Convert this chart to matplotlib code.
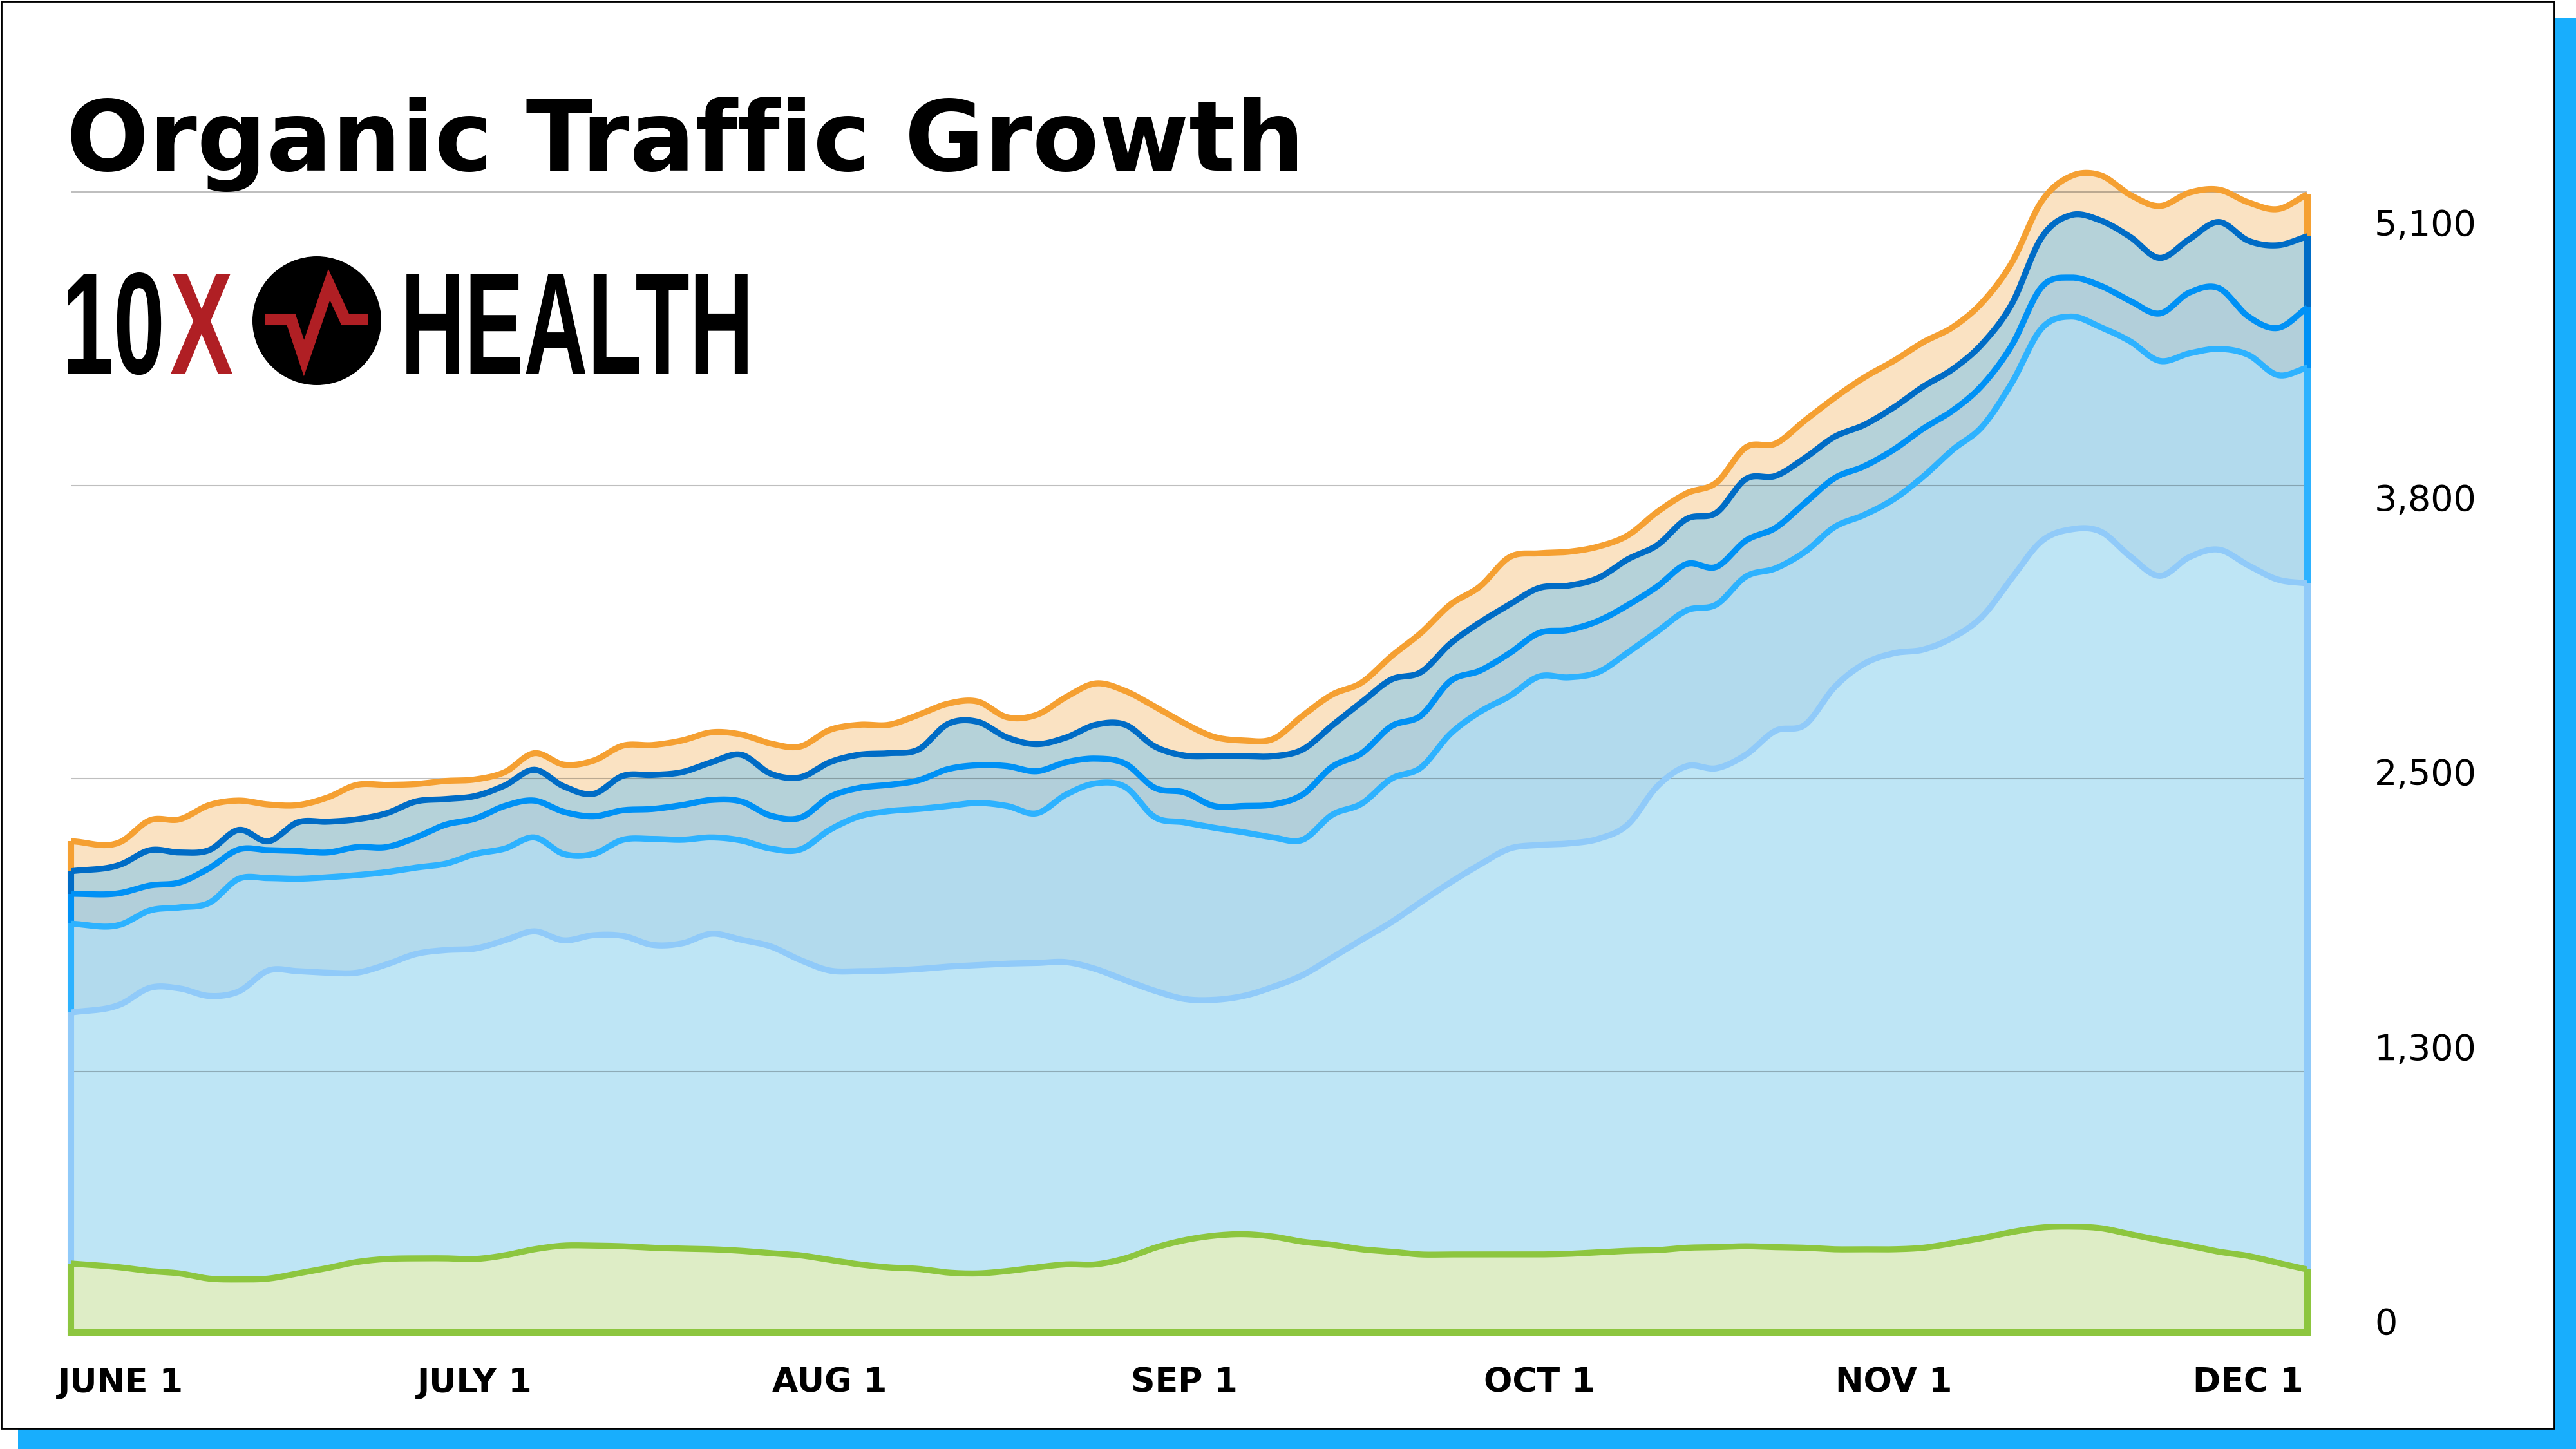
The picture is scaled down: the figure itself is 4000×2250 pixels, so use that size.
import numpy as np
import matplotlib.pyplot as plt
from matplotlib.patches import Rectangle, Circle
from matplotlib import transforms, patheffects

# x positions in months from June 1 (left edge, then a sample every ~2.5 days)
x = [-0.14] + [j / 12 for j in range(75)]
month_labels = ['JUNE 1', 'JULY 1', 'AUG 1', 'SEP 1', 'OCT 1', 'NOV 1', 'DEC 1']
tick_values = [0, 1275, 2550, 3825, 5100]
tick_labels = ['0', '1,300', '2,500', '3,800', '5,100']

# stacked series, bottom to top
green = [320, 302, 285, 274, 250, 246, 250, 274, 299, 327,
         341, 344, 344, 341, 358, 386, 403, 403, 400, 393,
         389, 386, 379, 368, 358, 337, 316, 302, 295, 278,
         274, 285, 302, 316, 316, 344, 393, 428, 449, 456,
         445, 421, 407, 386, 375, 362, 362, 362, 362, 362,
         365, 372, 379, 382, 393, 396, 400, 396, 393, 386,
         386, 386, 393, 414, 438, 466, 487, 491, 484, 456,
         428, 403, 375, 355, 323, 292]
light_blue = [1165, 1221, 1315, 1323, 1312, 1337, 1430, 1403, 1371, 1343,
              1367, 1413, 1431, 1441, 1462, 1476, 1417, 1441, 1441, 1406,
              1417, 1465, 1444, 1424, 1371, 1343, 1361, 1378, 1392, 1420,
              1431, 1427, 1413, 1403, 1371, 1291, 1193, 1120, 1095, 1106,
              1159, 1238, 1333, 1437, 1529, 1636, 1727, 1810, 1884, 1901,
              1905, 1919, 1978, 2153, 2236, 2223, 2282, 2397, 2428, 2610,
              2718, 2767, 2777, 2812, 2886, 3036, 3186, 3237, 3234, 3147,
              3084, 3196, 3259, 3206, 3172, 3185]
sky_blue = [412, 370, 359, 376, 432, 523, 429, 429, 443, 453,
            429, 401, 401, 439, 426, 436, 401, 377, 446, 492,
            481, 447, 461, 454, 513, 653, 719, 740, 743, 746,
            753, 732, 695, 778, 862, 897, 806, 820, 799, 760,
            694, 628, 663, 632, 666, 624, 690, 709, 708, 782,
            771, 774, 799, 719, 723, 760, 827, 754, 803, 743,
            691, 715, 803, 872, 882, 907, 987, 988, 949, 998,
            998, 946, 932, 977, 949, 1002]
blue = [139, 147, 116, 116, 161, 136, 130, 129, 115, 130,
        116, 140, 181, 164, 198, 171, 196, 175, 137, 139,
        161, 174, 181, 153, 147, 153, 132, 122, 133, 171,
        175, 185, 195, 150, 115, 108, 136, 139, 101, 122,
        153, 210, 223, 234, 244, 241, 245, 191, 199, 202,
        220, 238, 220, 209, 216, 175, 167, 188, 227, 227,
        226, 230, 223, 182, 192, 174, 192, 181, 192, 188,
        220, 282, 282, 178, 219, 279]
dark_blue = [105, 132, 164, 139, 84, 91, 41, 133, 143, 129,
             157, 167, 119, 105, 95, 143, 118, 104, 160, 158,
             153, 175, 217, 195, 188, 161, 154, 147, 143, 210,
             202, 133, 126, 115, 157, 181, 192, 171, 231, 231,
             224, 209, 192, 237, 217, 202, 174, 224, 226, 209,
             206, 199, 213, 192, 209, 251, 286, 241, 209, 192,
             192, 196, 195, 192, 192, 192, 230, 290, 303, 297,
             258, 248, 307, 352, 384, 331]
orange = [139, 105, 139, 154, 209, 136, 171, 80, 112, 160,
          132, 81, 84, 77, 62, 77, 101, 154, 140, 139,
          147, 139, 94, 140, 143, 150, 139, 132, 161, 94,
          94, 94, 136, 188, 192, 157, 185, 150, 90, 73,
          80, 157, 143, 91, 108, 182, 181, 167, 220, 161,
          157, 146, 111, 154, 119, 140, 147, 150, 174, 181,
          220, 216, 206, 195, 192, 192, 168, 181, 210, 195,
          241, 216, 150, 178, 168, 195]

layers = [
    (green, '#8DC63F', '#DEEDC6'),
    (light_blue, '#90CAF9', '#BEE5F5'),
    (sky_blue, '#2DB2FF', '#B2DAED'),
    (blue, '#0091F5', '#B2CFDA'),
    (dark_blue, '#006CC6', '#B5D2D9'),
    (orange, '#F5A032', '#FAE2C2'),
]


def smooth(xs, ys, n=12):
    # cubic hermite through the points, like a spline area chart
    xs = np.asarray(xs, float)
    ys = np.asarray(ys, float)
    m = np.gradient(ys, xs)
    t = np.linspace(0, 1, n, endpoint=False)
    h00 = 2 * t**3 - 3 * t**2 + 1
    h10 = t**3 - 2 * t**2 + t
    h01 = -2 * t**3 + 3 * t**2
    h11 = t**3 - t**2
    px, py = [], []
    for i in range(len(xs) - 1):
        h = xs[i + 1] - xs[i]
        px.append(xs[i] + t * h)
        py.append(h00 * ys[i] + h10 * h * m[i] + h01 * ys[i + 1] + h11 * h * m[i + 1])
    px.append([xs[-1]])
    py.append([ys[-1]])
    return np.concatenate(px), np.concatenate(py)


class Stretch(patheffects.AbstractPathEffect):
    # makes glyphs taller about the baseline (the logo uses a condensed face)
    def __init__(self, sy):
        super().__init__()
        self.sy = sy

    def draw_path(self, renderer, gc, tpath, affine, rgbFace=None):
        renderer.draw_path(gc, tpath, transforms.Affine2D().scale(1, self.sy) + affine,
                           rgbFace)


fig = plt.figure(figsize=(16, 9), dpi=250)
renderer = fig.canvas.get_renderer()

# background card with blue offset
bg = fig.add_axes([0, 0, 1, 1])
bg.set_xlim(0, 4000)
bg.set_ylim(2250, 0)
bg.axis('off')
bg.add_patch(Rectangle((28, 28), 3972, 2222, color='#18AEFD', lw=0))
bg.add_patch(Rectangle((1.5, 1.5), 3964, 2216, facecolor='white',
                       edgecolor='black', lw=0.8))

bg.text(103, 265, 'Organic Traffic Growth', fontsize=43.5, fontweight='bold',
        ha='left', va='baseline', color='black')

# logo: 10X (circle with pulse) HEALTH
for word, x0, x1, col in [('10', 96, 256, 'black'), ('X', 264, 362, '#B01F24'),
                          ('HEALTH', 622, 1170, 'black')]:
    t = bg.text(x0, 580, word, fontsize=64, fontweight='bold', family='Liberation Sans',
                ha='left', va='baseline', color=col)
    w = t.get_window_extent(renderer).width
    size = 64 * (x1 - x0) / w
    t.set_fontsize(size)
    t.set_path_effects([Stretch(161 / (0.716 * size * 250 / 72))])
bg.add_patch(Circle((492, 498), 100, color='black', lw=0))
bg.plot([412, 452, 472, 511, 536, 572], [496, 496, 556, 442, 496, 496],
        color='#B01F24', lw=5.2, solid_joinstyle='miter', solid_capstyle='butt')

# chart
ax = fig.add_axes([110 / 4000, 181 / 2250, 3473 / 4000, 1829 / 2250])
ax.set_facecolor('none')
ax.set_xlim(x[0], x[-1])
ax.set_ylim(0, 5468)
for s in ax.spines.values():
    s.set_visible(False)

tops = np.cumsum([l[0] for l in layers], axis=0)
lower = np.zeros(len(x))
curves = []
for (vals, line_c, fill_c), top in zip(layers, tops):
    xs, lo = smooth(x, lower)
    _, hi = smooth(x, top)
    ax.fill_between(xs, lo, hi, color=fill_c, lw=0, zorder=1)
    curves.append((xs, hi, lower.copy(), top, line_c))
    lower = top

for xs, hi, lo, top, line_c in curves[::-1]:
    ax.plot(xs, hi, color=line_c, lw=2.7, zorder=4, solid_capstyle='butt')
    ax.plot([x[0], x[0]], [lo[0], top[0]], color=line_c, lw=2.9, zorder=4,
            clip_on=False, solid_capstyle='butt')
    ax.plot([x[-1], x[-1]], [lo[-1], top[-1]], color=line_c, lw=2.9, zorder=4,
            clip_on=False, solid_capstyle='butt')
ax.plot([x[0], x[-1]], [0, 0], color=layers[0][1], lw=2.9, zorder=4, clip_on=False)

for lvl in [1211, 2571, 3931, 5294]:
    ax.axhline(lvl, color='black', alpha=0.25, lw=0.6, zorder=3)

ax.set_xticks(range(len(month_labels)), month_labels)
ax.tick_params(axis='x', length=0, pad=15.5, labelsize=15)
for lab in ax.get_xticklabels():
    lab.set_fontweight('bold')

ax.yaxis.tick_right()
ax.set_yticks(tick_values, tick_labels)
ax.tick_params(axis='y', length=0, pad=30, labelsize=16)
shift = transforms.ScaledTranslation(0, 18 / 250, fig.dpi_scale_trans)
for lab in ax.get_yticklabels():
    lab.set_transform(lab.get_transform() + shift)

fig.savefig('out.png', dpi=250)
